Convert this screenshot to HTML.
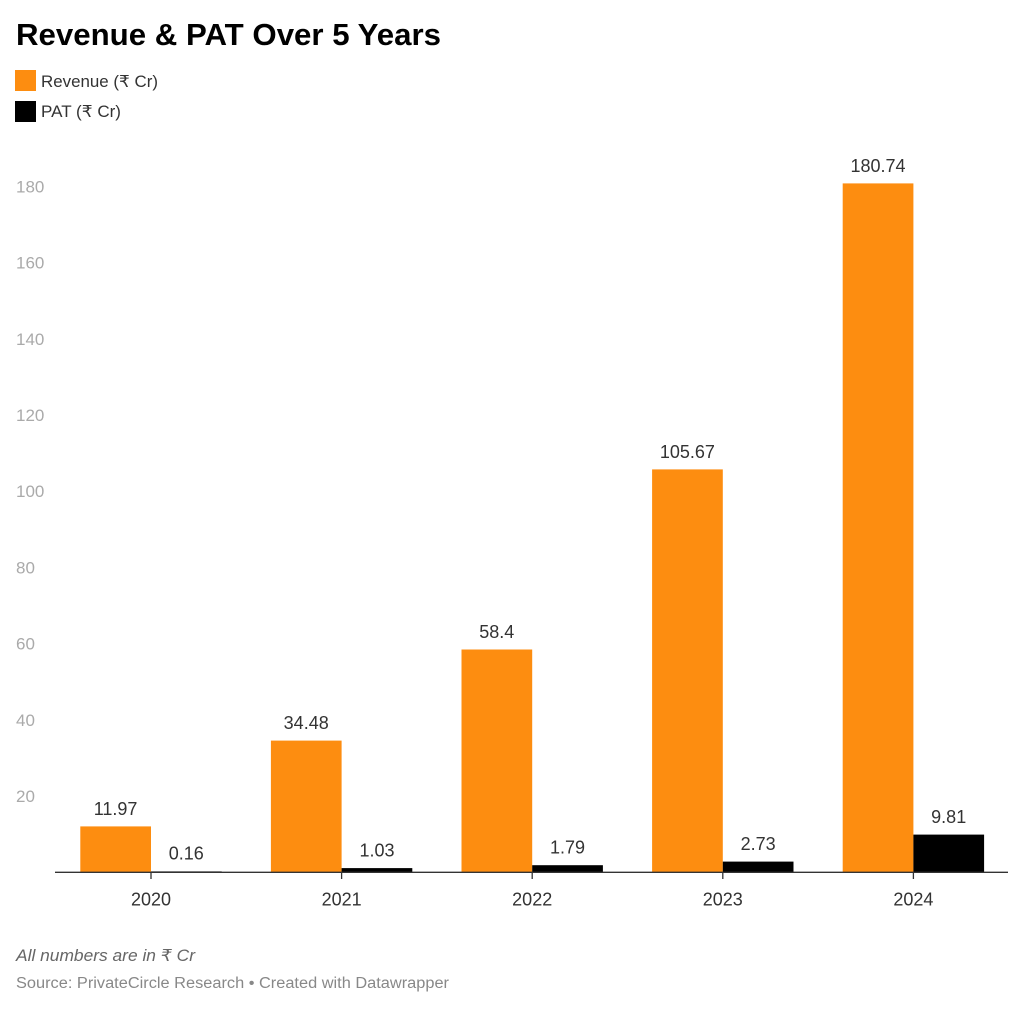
<!DOCTYPE html>
<html>
<head>
<meta charset="utf-8">
<style>
  html,body{margin:0;padding:0;background:#fff;}
  svg{display:block;}
  text{font-family:"Liberation Sans","DejaVu Sans",sans-serif;}
</style>
</head>
<body>
<svg width="1024" height="1009" viewBox="0 0 1024 1009" xmlns="http://www.w3.org/2000/svg">
  <rect width="1024" height="1009" fill="#fff"/>
  <!-- Title -->
  <text x="16" y="45" font-size="31" font-weight="bold" fill="#000" textLength="425" lengthAdjust="spacingAndGlyphs">Revenue &amp; PAT Over 5 Years</text>
  <!-- Legend -->
  <rect x="15" y="70" width="21" height="21" fill="#fd8d10"/>
  <text x="41" y="87" font-size="16.5" fill="#333" textLength="117" lengthAdjust="spacingAndGlyphs">Revenue (₹ Cr)</text>
  <rect x="15" y="101" width="21" height="21" fill="#000"/>
  <text x="41" y="117" font-size="16.5" fill="#333" textLength="80" lengthAdjust="spacingAndGlyphs">PAT (₹ Cr)</text>

  <!-- Y axis labels -->
  <g font-size="17" fill="#aaa">
    <text x="16" y="802">20</text>
    <text x="16" y="725.8">40</text>
    <text x="16" y="649.6">60</text>
    <text x="16" y="573.4">80</text>
    <text x="16" y="497.2">100</text>
    <text x="16" y="421">120</text>
    <text x="16" y="344.8">140</text>
    <text x="16" y="268.6">160</text>
    <text x="16" y="192.4">180</text>
  </g>

  <!-- Bars -->
  <g fill="#fd8d10">
    <rect x="80.3" y="826.4" width="70.7" height="45.6"/>
    <rect x="270.9" y="740.6" width="70.7" height="131.4"/>
    <rect x="461.5" y="649.5" width="70.7" height="222.5"/>
    <rect x="652.1" y="469.4" width="70.7" height="402.6"/>
    <rect x="842.7" y="183.4" width="70.7" height="688.6"/>
  </g>
  <g fill="#000">
    <rect x="151" y="871.4" width="70.7" height="0.6"/>
    <rect x="341.6" y="868.1" width="70.7" height="3.9"/>
    <rect x="532.2" y="865.2" width="70.7" height="6.8"/>
    <rect x="722.8" y="861.6" width="70.7" height="10.4"/>
    <rect x="913.4" y="834.6" width="70.7" height="37.4"/>
  </g>

  <!-- Value labels -->
  <g font-size="18" fill="#333" text-anchor="middle">
    <text x="115.6" y="815">11.97</text>
    <text x="186.3" y="859.5">0.16</text>
    <text x="306.2" y="729">34.48</text>
    <text x="377" y="856.4">1.03</text>
    <text x="496.8" y="638">58.4</text>
    <text x="567.5" y="853.5">1.79</text>
    <text x="687.4" y="458">105.67</text>
    <text x="758.1" y="850">2.73</text>
    <text x="878" y="172">180.74</text>
    <text x="948.7" y="823">9.81</text>
  </g>

  <!-- Axis -->
  <line x1="55" y1="872.3" x2="1008" y2="872.3" stroke="#333" stroke-width="1.3"/>
  <g stroke="#333" stroke-width="1.3">
    <line x1="151" y1="872" x2="151" y2="879"/>
    <line x1="341.6" y1="872" x2="341.6" y2="879"/>
    <line x1="532.2" y1="872" x2="532.2" y2="879"/>
    <line x1="722.8" y1="872" x2="722.8" y2="879"/>
    <line x1="913.4" y1="872" x2="913.4" y2="879"/>
  </g>
  <g font-size="18" fill="#333" text-anchor="middle">
    <text x="151" y="905.5">2020</text>
    <text x="341.6" y="905.5">2021</text>
    <text x="532.2" y="905.5">2022</text>
    <text x="722.8" y="905.5">2023</text>
    <text x="913.4" y="905.5">2024</text>
  </g>

  <!-- Footer -->
  <text x="16" y="961" font-size="16.5" font-style="italic" fill="#666" textLength="179" lengthAdjust="spacingAndGlyphs">All numbers are in ₹ Cr</text>
  <text x="16" y="988" font-size="15.5" fill="#888" textLength="433" lengthAdjust="spacingAndGlyphs">Source: PrivateCircle Research • Created with Datawrapper</text>
</svg>
</body>
</html>
